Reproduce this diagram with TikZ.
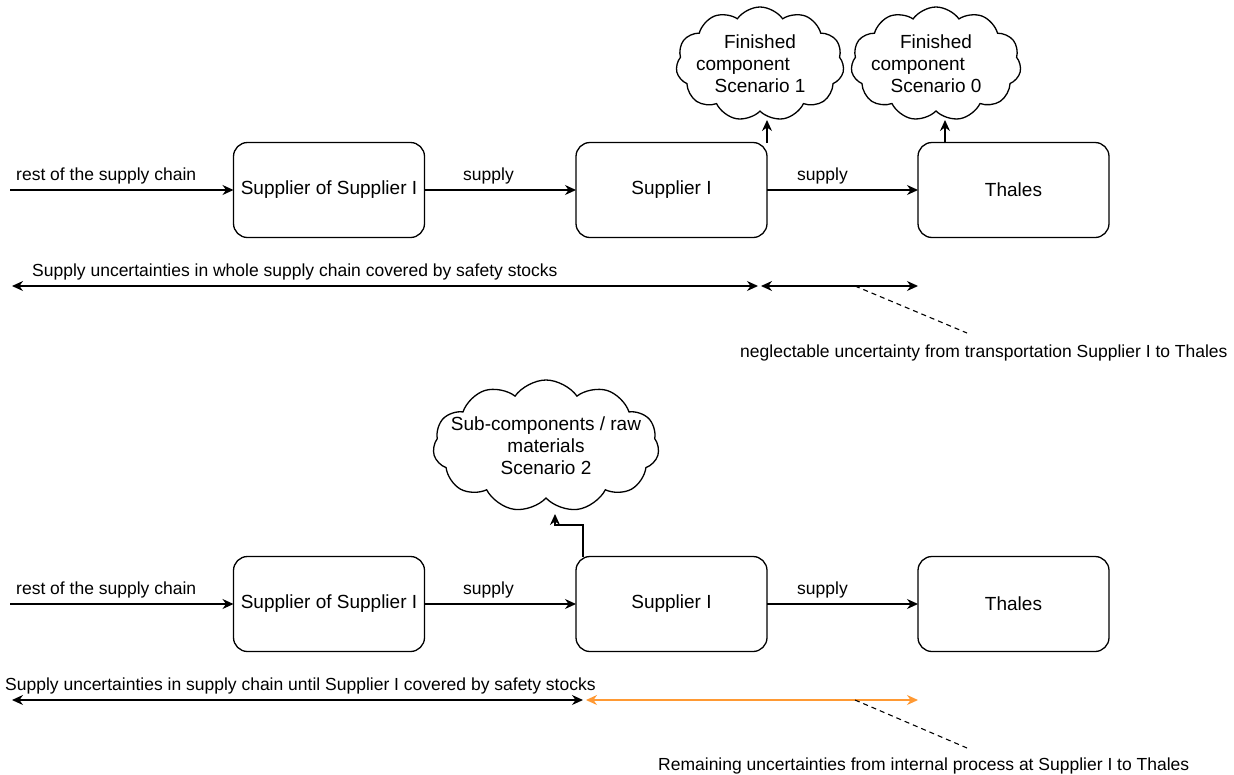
\documentclass[tikz,border=0pt]{standalone}
\usepackage{fontspec}
\setmainfont{Liberation Sans}
\usetikzlibrary{arrows.meta,shapes.symbols}
\definecolor{orangeline}{HTML}{FF9933}
\begin{document}
\begin{tikzpicture}[x=1pt,y=-1pt,
  font=\fontsize{17.5}{21}\selectfont,
  box/.style={draw, line width=1.3pt, rounded corners=14pt, minimum width=191pt, minimum height=95pt, inner sep=0pt, outer sep=0pt, font=\fontsize{19}{22}\selectfont},
  cloudnode/.style={draw, line width=1.3pt, cloud, cloud puffs=11, cloud puff arc=110, cloud ignores aspect, inner sep=0pt, outer sep=0pt, align=center, font=\fontsize{19}{22}\selectfont},
  arr/.style={line width=1.3pt, -{Stealth[length=11pt,width=10pt]}},
  darr/.style={line width=1.3pt, {Stealth[length=11pt,width=10pt]}-{Stealth[length=11pt,width=10pt]}},
  dashline/.style={line width=1.1pt, dash pattern=on 5pt off 4pt},
  lbl/.style={inner sep=0pt, anchor=base west}
]
\useasboundingbox (0,0) rectangle (1234,774);
\fill[white] (0,0) rectangle (1234,774);

% ---------- top row ----------
\node[box] (ss1) at (329,190) {Supplier of Supplier I};
\node[box] (s1) at (671.5,190) {Supplier I};
\node[box] (th1) at (1013.5,190) {Thales};
\coordinate (rs1) at (10,190);
\draw[arr] (rs1) -- (ss1.west);
\node[lbl] (rl1) at (16,180) {rest of the supply chain};
\draw[arr] (ss1.east) -- (s1.west);
\node[lbl] (sl1) at (463,180) {supply};
\draw[arr] (s1.east) -- (th1.west);
\node[lbl] (sl2) at (797,180) {supply};

\node[cloudnode, inner xsep=-10pt, minimum width=168pt, minimum height=114pt] (c1) at (760,64) {Finished\\component\hspace*{34pt}\mbox{}\\Scenario 1};
\node[cloudnode, inner xsep=-10pt, minimum width=170pt, minimum height=114pt] (c0) at (936,64) {Finished\\component\hspace*{36pt}\mbox{}\\Scenario 0};
\coordinate (a1) at (767,143);
\coordinate (a1e) at (767,120);
\draw[arr] (a1) -- (a1e);
\coordinate (a0) at (945,143);
\coordinate (a0e) at (945,120);
\draw[arr] (a0) -- (a0e);

\coordinate (d1a) at (12,286);
\coordinate (d1b) at (758,286);
\coordinate (d2a) at (761,286);
\coordinate (d2b) at (918,286);
\draw[darr] (d1a) -- (d1b);
\draw[darr] (d2a) -- (d2b);
\node[lbl] (ul1) at (32,276) {Supply uncertainties in whole supply chain covered by safety stocks};
\coordinate (dl1a) at (855,286);
\coordinate (dl1b) at (967,333);
\draw[dashline] (dl1a) -- (dl1b);
\node[lbl] (nl1) at (740,357) {neglectable uncertainty from transportation Supplier I to Thales};

% ---------- bottom row ----------
\node[box] (ss2) at (329,604) {Supplier of Supplier I};
\node[box] (s2) at (671.5,604) {Supplier I};
\node[box] (th2) at (1013.5,604) {Thales};
\coordinate (rs2) at (10,604);
\draw[arr] (rs2) -- (ss2.west);
\node[lbl] (rl2) at (16,594) {rest of the supply chain};
\draw[arr] (ss2.east) -- (s2.west);
\node[lbl] (sl3) at (463,594) {supply};
\draw[arr] (s2.east) -- (th2.west);
\node[lbl] (sl4) at (797,594) {supply};

\node[cloudnode, inner xsep=-30pt, minimum width=226pt, minimum height=132pt] (c2) at (546,446) {Sub-components / raw\\materials\\Scenario 2};
\coordinate (b1) at (583,557);
\coordinate (b2) at (583,525);
\coordinate (b3) at (555,525);
\coordinate (b4) at (555,514);
\draw[arr] (b1) -- (b2) -- (b3) -- (b4);

\coordinate (d3a) at (12,700);
\coordinate (d3b) at (583,700);
\coordinate (d4a) at (586,700);
\coordinate (d4b) at (918,700);
\draw[darr] (d3a) -- (d3b);
\draw[darr, draw=orangeline, fill=orangeline] (d4a) -- (d4b);
\node[lbl] (ul2) at (5,690) {Supply uncertainties in supply chain until Supplier I covered by safety stocks};
\coordinate (dl2a) at (855,700);
\coordinate (dl2b) at (967,748);
\draw[dashline] (dl2a) -- (dl2b);
\node[lbl] (nl2) at (658,770) {Remaining uncertainties from internal process at Supplier I to Thales};
\end{tikzpicture}
\end{document}
